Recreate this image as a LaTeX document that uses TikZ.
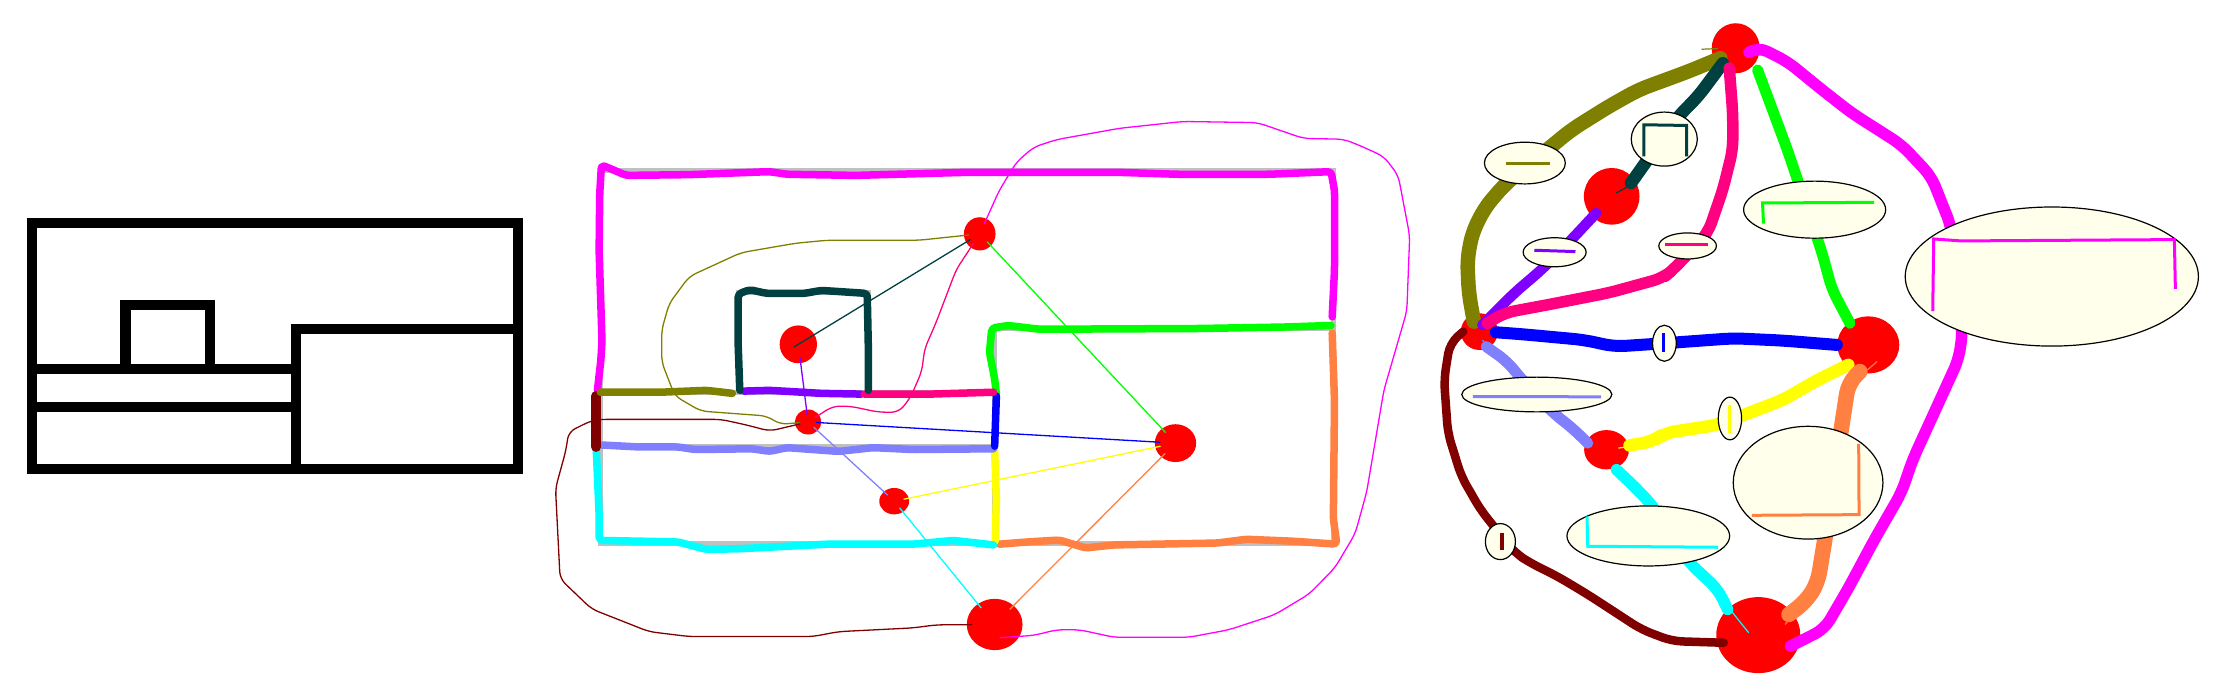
\documentclass[tikz,border=0pt]{standalone}
\usepackage{tikz}
\usetikzlibrary{shapes,positioning}
\usepackage{xcolor}
\definecolor{pmagenta}{RGB}{255,0,255}
\definecolor{polive}{RGB}{128,128,0}
\definecolor{pteal}{RGB}{0,64,64}
\definecolor{pviolet}{RGB}{128,0,255}
\definecolor{ppink}{RGB}{255,0,128}
\definecolor{pgreen}{RGB}{0,255,0}
\definecolor{pblue}{RGB}{0,0,255}
\definecolor{plavender}{RGB}{128,128,255}
\definecolor{pyellow}{RGB}{255,255,0}
\definecolor{pcyan}{RGB}{0,255,255}
\definecolor{porange}{RGB}{255,128,64}
\definecolor{pdarkred}{RGB}{128,0,0}
\definecolor{pgrey}{RGB}{192,192,192}
\definecolor{pivory}{RGB}{255,255,236}
\tikzstyle{wall} = [line width=0.1cm, black, line join=miter]
\tikzstyle{pen} = [line width=0.075cm, line cap=round, line join=round, rounded corners=1pt]
\tikzstyle{hair} = [line width=0.013cm, line join=round, rounded corners=2pt, shorten <=-1.5pt, shorten >=-1.5pt]
\tikzstyle{fat} = [line cap=round, line join=round, rounded corners=3pt]
\tikzstyle{tiny} = [line width=0.03cm, line join=miter]
\tikzstyle{tip} = [line width=0.012cm]
\tikzstyle{blob} = [ellipse, fill=red, inner sep=0pt, outer sep=0pt]
\tikzstyle{bubble} = [ellipse, draw=black, line width=0.012cm, fill=pivory, inner sep=0pt, outer sep=0pt]
\tikzstyle{midframe} = [shift={(540,100)}, x=0.00574cm, y=-0.003776cm]
\tikzstyle{upframe} = [shift={(1440,0)}, x=0.004962cm, y=-0.003333cm]
\tikzstyle{lowframe} = [shift={(1400,300)}, x=0.003827cm, y=-0.003333cm]

\begin{document}
\begin{tikzpicture}[x=0.01cm, y=-0.01cm]
\useasboundingbox (0,0) rectangle (2218,692);
% Plain floor plan
\draw[wall] (32,223) rectangle (518,469);
\draw[wall] (125.5,369) -- (125.5,305) -- (210,305) -- (210,369);
\draw[wall] (32,369) -- (296,369);
\draw[wall] (32,407) -- (296,407);
\draw[wall] (296,469) -- (296,329) -- (518,329);

% Plan with dual graph
\begin{scope}[midframe]
\draw[pgrey, line width=0.05cm] (105,188) rectangle (1383,1175);
\draw[pgrey, line width=0.05cm] (105,775) -- (792,775) (105,920) -- (792,920);
\draw[pgrey, line width=0.05cm] (792,1175) -- (792,605) -- (1383,605);
\draw[pgrey, line width=0.05cm] (345,775) -- (345,510) -- (572,510) -- (572,775);
\draw[pen, pmagenta] (100,770) -- (106,690) -- (108,640) -- (103,400) -- (104,250) -- (107,172) -- (150,200) -- (260,198) -- (400,190) -- (430,197) -- (550,200) -- (740,192) -- (1010,192) -- (1110,197) -- (1270,197) -- (1378,190) -- (1384,240) -- (1384,450) -- (1380,575);
\draw[pen, pgreen] (1378,598) -- (1300,602) -- (1150,606) -- (870,608) -- (815,598) -- (787,605) -- (783,670) -- (792,740) -- (795,780);
\draw[pen, porange] (1380,618) -- (1384,800) -- (1382,1110) -- (1388,1178) -- (1310,1170) -- (1230,1165) -- (1180,1175) -- (1000,1180) -- (950,1188) -- (905,1167) -- (850,1172) -- (800,1178);
\draw[pen, pyellow] (792,928) -- (795,1060) -- (793,1170);
\draw[pen, pcyan] (98,925) -- (103,1100) -- (103,1168) -- (240,1172) -- (290,1192) -- (350,1190) -- (500,1178) -- (650,1178) -- (720,1168) -- (790,1180);
\draw[pen, plavender] (108,915) -- (170,920) -- (240,920) -- (270,927) -- (370,925) -- (400,932) -- (430,922) -- (520,932) -- (580,922) -- (650,927) -- (790,925);
\draw[pen, pblue] (795,785) -- (792,918);
\draw[pen, pdarkred, line width=0.1cm] (98,785) -- (98,920);
\draw[pen, polive] (105,775) -- (210,775) -- (290,770) -- (335,778);
\draw[pen, pviolet] (355,772) -- (400,770) -- (490,778) -- (560,780);
\draw[pen, ppink] (565,780) -- (680,780) -- (790,775);
\draw[pen, pteal] (348,770) -- (345,640) -- (345,515) -- (365,503) -- (395,513) -- (460,513) -- (490,505) -- (570,513) -- (572,660) -- (572,770);
\node[blob, minimum width=0.316cm, minimum height=0.332cm] (ma) at (766,355) {};
\node[blob, minimum width=0.373cm, minimum height=0.378cm] (mb) at (450,648) {};
\node[blob, minimum width=0.264cm, minimum height=0.25cm] (mc) at (467,854) {};
\node[blob, minimum width=0.298cm, minimum height=0.264cm] (md) at (617,1064) {};
\node[blob, minimum width=0.413cm, minimum height=0.378cm] (me) at (1107,910) {};
\node[blob, minimum width=0.557cm, minimum height=0.513cm] (mf) at (792,1391) {};
\draw[hair, pteal] (mb.center) -- (ma);
\draw[hair, pviolet] (mb) -- (mc);
\draw[hair, pgreen] (ma) -- (me);
\draw[hair, pblue] (mc) -- (me);
\draw[hair, plavender] (mc) -- (md);
\draw[hair, pyellow] (md) -- (me);
\draw[hair, pcyan] (md) -- (mf);
\draw[hair, porange] (me) -- (mf);
\draw[hair, ppink] (ma) -- (725,450) -- (690,590) -- (670,660) -- (665,720) -- (645,790) -- (625,828) -- (590,828) -- (540,812) -- (510,812) -- (mc);
\draw[hair, polive] (ma) -- (660,372) -- (500,372) -- (445,380) -- (350,405) -- (260,468) -- (225,540) -- (212,610) -- (212,695) -- (235,785) -- (280,825) -- (395,838) -- (418,860) -- (mc);
\draw[hair, pdarkred] (mc) -- (400,878) -- (360,862) -- (315,847) -- (105,847) -- (90,850) -- (50,880) -- (45,930) -- (27,1030) -- (35,1270) -- (90,1350) -- (190,1410) -- (260,1423) -- (475,1423) -- (520,1410) -- (650,1400) -- (690,1392) -- (mf);
\draw[hair, pmagenta] ([shift={(18,34)}]mf.center) -- (860,1420) -- (900,1405) -- (940,1405) -- (1000,1425) -- (1130,1425) -- (1200,1405) -- (1280,1365) -- (1340,1310) -- (1385,1240) -- (1420,1150) -- (1440,1040) -- (1470,770) -- (1510,560) -- (1515,360) -- (1495,200) -- (1470,150) -- (1430,122) -- (1400,104) -- (1330,102) -- (1250,60) -- (1120,57) -- (1010,75) -- (900,105) -- (860,125) -- (830,165) -- (800,240) -- (ma);
\end{scope}

% Dual graph with bubbles
\begin{scope}[upframe]
\node[blob, minimum width=0.48cm, minimum height=0.5cm] (ra) at (596,145) {};
\node[blob, minimum width=0.556cm, minimum height=0.567cm] (rb) at (346,590) {};
\end{scope}
\begin{scope}[lowframe]
\node[blob, minimum width=0.37cm, minimum height=0.367cm] (rc) at (207,95) {};
\node[blob, minimum width=0.62cm, minimum height=0.57cm] (rd) at (1222,135) {};
\node[blob, minimum width=0.448cm, minimum height=0.393cm] (re) at (539,450) {};
\node[blob, minimum width=0.84cm, minimum height=0.76cm] (rf) at (935,1007) {};
\draw[fat, plavender, line width=0.11cm] ([shift={(18,45)}]rc.center) -- (280,185) -- (315,235) -- (400,340) -- (450,385) -- ([shift={(-49,-20)}]re.center);
\draw[fat, pblue, line width=0.12cm] ([shift={(43,2)}]rc.center) -- (320,103) -- (480,120) -- (560,140) -- (690,130) -- (870,115) -- (1000,122) -- ([shift={(-82,0)}]rd.center);
\draw[fat, pyellow, line width=0.125cm] ([shift={(60,-13)}]re.center) -- (660,425) -- (690,400) -- (830,375) -- (1000,300) -- (1090,240) -- ([shift={(-52,60)}]rd.center);
\draw[fat, porange, line width=0.155cm] ([shift={(-22,80)}]rd.center) -- (1170,250) -- (1150,400) -- (1110,710) -- (1090,850) -- (1060,905) -- ([shift={(80,-62)}]rf.center);
\draw[fat, pcyan, line width=0.115cm] ([shift={(26,60)}]re.center) -- (620,570) -- (660,620) -- (755,790) -- (830,870) -- ([shift={(-80,-77)}]rf.center);
\draw[fat, pdarkred, line width=0.085cm] ([shift={(-42,0)}]rc.center) -- (130,130) -- (115,240) -- (125,400) -- (160,530) -- (210,630) -- (300,760) -- (340,790) -- (410,830) -- (490,885) -- (550,930) -- (630,990) -- (710,1025) -- ([shift={(-90,23)}]rf.center);
\draw[tip, plavender] (215,120) -- (235,150);
\draw[tip, pcyan] (865,935) -- (910,1000);
\draw[tip, porange] (1245,185) -- (1220,210);
\draw[tip, porange] (1025,945) -- (1005,975);
\draw[tip, pyellow] (570,445) -- (600,440);
\end{scope}
\begin{scope}[upframe]
\draw[fat, polive, line width=0.145cm] ([shift={(-31,30)}]ra.center) -- (500,215) -- (400,270) -- (340,320) -- (265,390) -- (130,555) -- (90,625) -- (65,700) -- (55,780) -- (58,880) -- ([shift={(-11,-30)}]rc.center);
\draw[fat, pteal, line width=0.125cm] ([shift={(-26,45)}]ra.center) -- (520,290) -- (480,350) -- ([shift={(39,-40)}]rb.center);
\draw[fat, pviolet, line width=0.105cm] ([shift={(-31,50)}]rb.center) -- (265,720) -- (205,810) -- (150,880) -- ([shift={(6,-20)}]rc.center);
\draw[fat, ppink, line width=0.115cm] ([shift={(-13,60)}]ra.center) -- (590,340) -- (590,450) -- (570,570) -- (540,700) -- (470,810) -- (450,835) -- (340,880) -- (220,915) -- (130,940) -- ([shift={(16,-25)}]rc.center);
\draw[fat, pgreen, line width=0.11cm] ([shift={(44,65)}]ra.center) -- (665,310) -- (700,450) -- (770,760) -- (790,870) -- ([shift={(-37,-65)}]rd.center);
\draw[fat, pmagenta, line width=0.115cm] ([shift={(29,10)}]ra.center) -- (640,140) -- (700,185) -- (770,270) -- (830,340) -- (930,435) -- (990,530) -- (1030,680) -- (1053,1000) -- (1045,1080) -- (999,1230) -- (953,1380) -- (930,1480) -- (876,1620) -- (822,1770) -- (775,1890) -- ([shift={(65,33)}]rf.center);
\draw[tip, pteal] (355,580) -- (380,560);
\draw[tip, polive] (527,148) -- (560,146);
% Bubbles
\node[bubble, minimum width=0.809cm, minimum height=0.417cm] (bolive) at (171,490) {};
\node[bubble, minimum width=0.66cm, minimum height=0.54cm] (bteal) at (452,418) {};
\node[bubble, minimum width=0.63cm, minimum height=0.29cm] (bviolet) at (231,758) {};
\node[bubble, minimum width=0.576cm, minimum height=0.26cm] (bpink) at (499,739) {};
\node[bubble, minimum width=1.42cm, minimum height=0.57cm] (bgreen) at (755,630) {};
\node[bubble, minimum width=2.93cm, minimum height=1.39cm] (bmagenta) at (1233,831) {};
\draw[tiny, polive] (133,490) -- (222,490);
\draw[tiny, pteal] (411,470) -- (411,375) -- (497,377) -- (497,470);
\draw[tiny, pviolet] (190,752) -- (273,756);
\draw[tiny, ppink] (453,736) -- (540,736);
\draw[tiny, pgreen] (652,672) -- (650,610) -- (875,608);
\draw[tiny, pmagenta] (993,935) -- (995,718) -- (1050,724) -- (1480,720) -- (1482,868);
\end{scope}
\begin{scope}[lowframe]
\node[bubble, minimum width=0.237cm, minimum height=0.36cm] (bblue) at (690,130) {};
\node[bubble, minimum width=1.5cm, minimum height=0.347cm] (blavender) at (357,284) {};
\node[bubble, minimum width=0.233cm, minimum height=0.427cm] (byellow) at (861,356) {};
\node[bubble, minimum width=1.496cm, minimum height=1.127cm] (borange) at (1065,549) {};
\node[bubble, minimum width=1.626cm, minimum height=0.6cm] (bcyan) at (648,709) {};
\node[bubble, minimum width=0.3cm, minimum height=0.36cm] (bdarkred) at (262,726) {};
\draw[tiny, pblue] (687,100) -- (687,155);
\draw[tiny, plavender] (190,290) -- (525,291);
\draw[tiny, pyellow] (859,315) -- (859,400);
\draw[tiny, porange] (1197,432) -- (1198,645) -- (918,647);
\draw[tiny, pcyan] (488,650) -- (490,740) -- (830,743);
\draw[tiny, pdarkred, line width=0.04cm] (265,700) -- (265,750);
\end{scope}
\end{tikzpicture}
\end{document}
